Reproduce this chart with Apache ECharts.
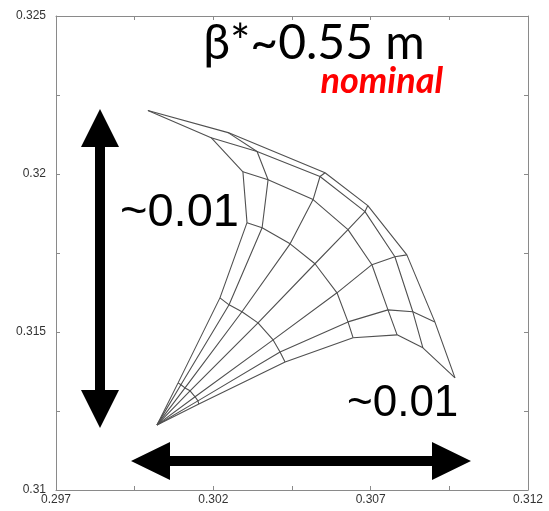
<!DOCTYPE html>
<html><head><meta charset="utf-8">
<script src="https://cdn.jsdelivr.net/npm/echarts@6/dist/echarts.min.js"></script>
<style>html,body{margin:0;padding:0;background:#fff}#c{width:549px;height:511px}</style>
</head><body><div id="c"></div>
<script>
// Tick labels
const xTickLabels = [0.297, 0.302, 0.307, 0.312];
const yTickLabels = [0.31, 0.315, 0.32, 0.325];
// Footprint: tune of zero-amplitude particle
const vertex = [0.30021, 0.31206];
// Footprint rings (constant amplitude), 7 angles each, from vertical (first) to horizontal (last)
const ring1 = [[0.30088,0.31339],[0.30097,0.31333],[0.30110,0.31323],[0.30126,0.31314],[0.30142,0.31295],[0.30151,0.31282],[0.30154,0.31272]];
const ring2 = [[0.30221,0.31608],[0.30250,0.31586],[0.30291,0.31564],[0.30342,0.31529],[0.30390,0.31475],[0.30412,0.31437],[0.30428,0.31405]];
const ring3 = [[0.30307,0.31846],[0.30355,0.31830],[0.30444,0.31779],[0.30523,0.31716],[0.30593,0.31624],[0.30628,0.31532],[0.30644,0.31482]];
const ring4 = [[0.30294,0.32007],[0.30374,0.31982],[0.30517,0.31919],[0.30628,0.31824],[0.30704,0.31713],[0.30755,0.31570],[0.30784,0.31491]];
const ring5 = [[0.30193,0.32115],[0.30339,0.32071],[0.30539,0.31992],[0.30682,0.31881],[0.30777,0.31738],[0.30834,0.31564],[0.30866,0.31450]];
const ring6 = [[0.29992,0.32201],[0.30247,0.32131],[0.30555,0.32004],[0.30691,0.31900],[0.30815,0.31744],[0.30904,0.31532],[0.30968,0.31355]];
const rings = [ring1, ring2, ring3, ring4, ring5, ring6];

const lineColor = '#505050';
const series = [];
rings.forEach(r => series.push({type:'line', data:r, symbol:'none', silent:true,
  lineStyle:{color:lineColor, width:1.1}, animation:false}));
for (let j = 0; j < 7; j++) {
  const pts = [vertex].concat(rings.map(r => r[j]));
  series.push({type:'line', data:pts, symbol:'none', silent:true,
    lineStyle:{color:lineColor, width:1.1}, animation:false});
}

function fmt(list){ return v => list.some(t => Math.abs(t - v) < 1e-7) ? String(+v.toFixed(3)) : ''; }
const axisLineStyle = {show:true, lineStyle:{color:'#8a8a8a', width:1}};
const tickStyle = {show:true, inside:true, length:4, lineStyle:{color:'#8a8a8a'}};
const labelStyle = {color:'#333', fontSize:12, fontFamily:'Liberation Sans, Arial'};

const chart = echarts.init(document.getElementById('c'), null, {renderer:'canvas'});
chart.setOption({
  animation:false,
  backgroundColor:'#fff',
  grid:{left:56, right:21, top:16, bottom:21},
  xAxis:[
    {type:'value', min:0.297, max:0.312, interval:0.0025, position:'bottom',
     axisLine:axisLineStyle, axisTick:tickStyle, splitLine:{show:false},
     axisLabel:Object.assign({formatter:fmt(xTickLabels), margin:4, showMinLabel:true, showMaxLabel:true}, labelStyle)},
    {type:'value', min:0.297, max:0.312, interval:0.0025, position:'top',
     axisLine:axisLineStyle, axisTick:tickStyle, splitLine:{show:false}, axisLabel:{show:false}}
  ],
  yAxis:[
    {type:'value', min:0.31, max:0.325, interval:0.0025, position:'left',
     axisLine:axisLineStyle, axisTick:tickStyle, splitLine:{show:false},
     axisLabel:Object.assign({formatter:fmt(yTickLabels), margin:10, showMinLabel:true, showMaxLabel:true}, labelStyle)},
    {type:'value', min:0.31, max:0.325, interval:0.0025, position:'right',
     axisLine:axisLineStyle, axisTick:tickStyle, splitLine:{show:false}, axisLabel:{show:false}}
  ],
  series: series,
  graphic:[
    {type:'polygon', shape:{points:[[100,109],[81,147],[95,147],[95,390],[81,390],[100,428],[119,390],[105,390],[105,147],[119,147]]}, style:{fill:'#000'}},
    {type:'polygon', shape:{points:[[131,461],[170,442],[170,456],[432,456],[432,442],[471,461],[432,480],[432,466],[170,466],[170,480]]}, style:{fill:'#000'}},
    {type:'text', x:120, y:213, style:{text:'~0.01', fontSize:47, fontFamily:'Liberation Sans', fill:'#000', align:'left', verticalAlign:'middle'}},
    {type:'text', x:347, y:404, style:{text:'~0.01', fontSize:44, fontFamily:'Liberation Sans', fill:'#000', align:'left', verticalAlign:'middle'}},
    {type:'text', x:314, y:44, style:{text:'β*~0.55 m', fontSize:48, fontFamily:'Lato', fill:'#000', align:'center', verticalAlign:'middle'}},
    {type:'text', x:443, y:81, style:{text:'nominal', fontSize:36, fontFamily:'Lato', fontWeight:'bold', fontStyle:'italic', fill:'#ff0000', align:'right', verticalAlign:'middle'}}
  ]
});
</script></body></html>
